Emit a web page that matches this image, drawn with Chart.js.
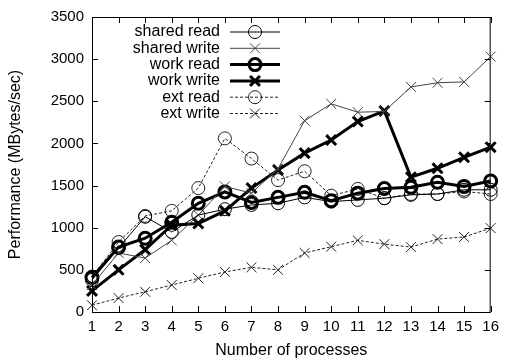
<!DOCTYPE html>
<html>
<head>
<meta charset="utf-8">
<script src="https://cdn.jsdelivr.net/npm/chart.js@4/dist/chart.umd.min.js"></script>
<style>
  html, body { margin: 0; padding: 0; background: #fff; }
  #wrap { width: 505px; height: 360px; }
</style>
</head>
<body>
<div id="wrap"><canvas id="chart" width="505" height="360"></canvas></div>
<script>
var procs = ['1','2','3','4','5','6','7','8','9','10','11','12','13','14','15','16'];
var sharedRead  = [380, 760, 1130, 950, 1150, 1220, 1270, 1290, 1360, 1310, 1330, 1350, 1390, 1400, 1450, 1450];
var sharedWrite = [320, 700, 640, 850, 1150, 1490, 1410, 1700, 2270, 2470, 2370, 2380, 2670, 2720, 2730, 3030];
var workRead    = [410, 770, 875, 1065, 1290, 1425, 1300, 1360, 1420, 1320, 1410, 1465, 1480, 1540, 1490, 1555];
var workWrite   = [250, 500, 740, 1030, 1050, 1200, 1470, 1685, 1885, 2040, 2260, 2385, 1600, 1705, 1835, 1955];
var extRead     = [420, 830, 1140, 1200, 1470, 2060, 1820, 1565, 1670, 1380, 1460, 1350, 1400, 1400, 1430, 1400];
var extWrite    = [80, 165, 240, 320, 400, 475, 530, 500, 700, 775, 850, 805, 770, 865, 890, 995];

var FONT = '"Liberation Sans", Arial, sans-serif';

var mkSet = function(label, data, color, width, dash, style, radius) {
  return {
    label: label,
    data: data,
    borderColor: color,
    borderWidth: width,
    borderDash: dash,
    pointStyle: style,
    pointRadius: radius,
    pointBorderColor: color,
    pointBorderWidth: width,
    pointBackgroundColor: 'rgba(0,0,0,0)',
    tension: 0,
    fill: false,
    clip: false
  };
};

// gnuplot style box: inward ticks on all sides, legend in the top left
var framePlugin = {
  id: 'frame',
  afterDatasetsDraw: function(chart) {
    var ctx = chart.ctx, a = chart.chartArea;
    var xs = chart.scales.x, ys = chart.scales.y;
    ctx.save();
    ctx.strokeStyle = '#000';
    ctx.lineWidth = 1;
    ctx.strokeRect(a.left + 0.5, a.top + 0.5, a.right - a.left - 1, a.bottom - a.top);
    ctx.beginPath();
    xs.ticks.forEach(function(t, i) {
      var px = Math.round(xs.getPixelForTick(i)) + 0.5;
      ctx.moveTo(px, a.bottom); ctx.lineTo(px, a.bottom - 6);
      ctx.moveTo(px, a.top); ctx.lineTo(px, a.top + 6);
    });
    ys.ticks.forEach(function(t) {
      var py = Math.round(ys.getPixelForValue(t.value)) + 0.5;
      ctx.moveTo(a.left, py); ctx.lineTo(a.left + 6, py);
      ctx.moveTo(a.right, py); ctx.lineTo(a.right - 6, py);
    });
    ctx.stroke();

    // legend
    ctx.font = '16px ' + FONT;
    ctx.textAlign = 'right';
    ctx.textBaseline = 'middle';
    chart.data.datasets.forEach(function(ds, i) {
      var y = 32 + i * 16.3;
      ctx.fillStyle = '#000';
      ctx.fillText(ds.label, 220, y);
      ctx.strokeStyle = ds.borderColor;
      ctx.lineWidth = ds.borderWidth;
      ctx.setLineDash(ds.borderDash);
      ctx.beginPath();
      ctx.moveTo(230, y); ctx.lineTo(280, y);
      ctx.stroke();
      ctx.setLineDash([]);
      ctx.fillStyle = 'rgba(0,0,0,0)';
      Chart.helpers.drawPoint(ctx, {
        pointStyle: ds.pointStyle, radius: ds.pointRadius,
        rotation: 0, borderWidth: ds.borderWidth
      }, 255, y);
    });
    ctx.restore();
  }
};

var canvas = document.getElementById('chart');
new Chart(canvas, {
  type: 'line',
  data: {
    labels: procs,
    datasets: [
      mkSet('shared read', sharedRead, '#000', 1, [], 'circle', 6.5),
      mkSet('shared write', sharedWrite, '#444', 1, [], 'crossRot', 7),
      mkSet('work read', workRead, '#000', 3, [], 'circle', 6),
      mkSet('work write', workWrite, '#000', 3, [], 'crossRot', 7),
      mkSet('ext read', extRead, '#222', 1, [3, 2], 'circle', 6.5),
      mkSet('ext write', extWrite, '#222', 1, [3, 2], 'crossRot', 7)
    ]
  },
  options: {
    responsive: false,
    animation: false,
    devicePixelRatio: 1,
    layout: { padding: { left: 0, right: 8, top: 17, bottom: 0 } },
    plugins: { legend: { display: false }, tooltip: { enabled: false } },
    scales: {
      x: {
        offset: false,
        grid: { display: false, drawTicks: false },
        border: { display: false },
        ticks: { color: '#000', font: { family: FONT, size: 15 }, padding: 6, maxRotation: 0, autoSkip: false },
        title: { display: true, text: 'Number of processes', color: '#000', font: { family: FONT, size: 16 }, padding: { top: 1, bottom: 0 } },
        afterFit: function(s) { s.height = 48; }
      },
      y: {
        min: 0, max: 3500,
        grid: { display: false, drawTicks: false },
        border: { display: false },
        ticks: {
          stepSize: 500, color: '#000', font: { family: FONT, size: 15 }, padding: 8,
          callback: function(v) { return String(v); }
        },
        title: { display: true, text: 'Performance (MBytes/sec)', color: '#000', font: { family: FONT, size: 16 }, padding: { top: 6, bottom: 0 } },
        afterFit: function(s) { s.width = 92; }
      }
    }
  },
  plugins: [framePlugin]
});
</script>
</body>
</html>
